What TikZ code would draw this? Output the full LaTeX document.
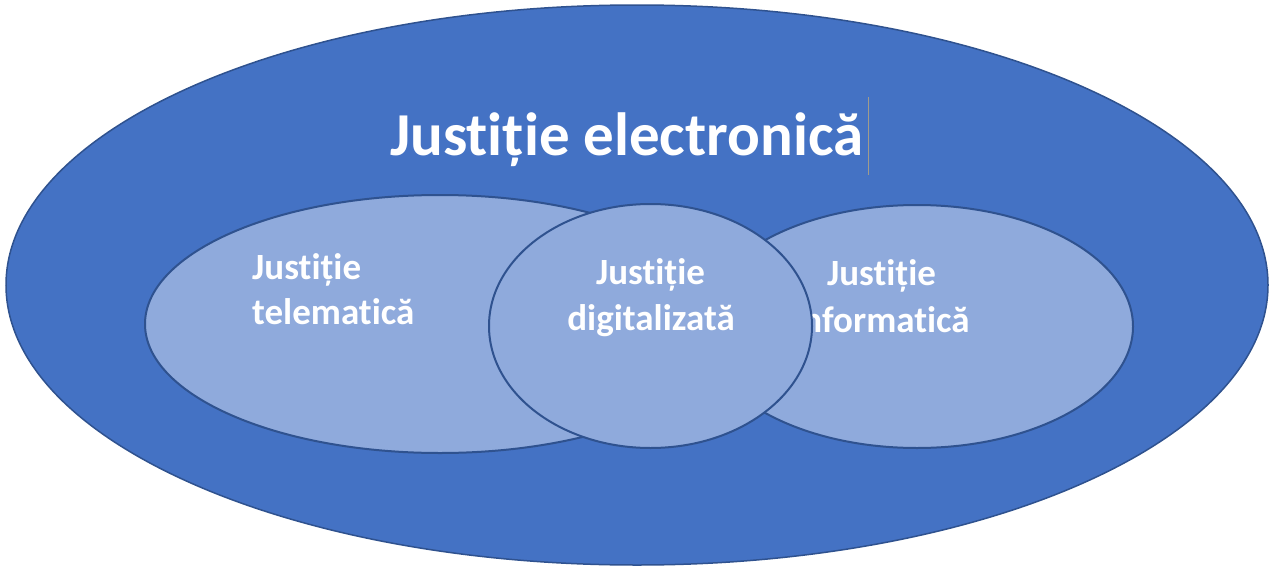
\documentclass[tikz,border=0pt]{standalone}
\usepackage{fontspec}
\setmainfont{Carlito}[Ligatures={NoCommon}]
\usetikzlibrary{shapes.geometric}
\definecolor{outerblue}{HTML}{4472C4}
\definecolor{innerblue}{HTML}{8FAADC}
\definecolor{edgeblue}{HTML}{2F528F}
\definecolor{caretgray}{HTML}{A09C8C}
\tikzset{
  outerset/.style={ellipse, draw=edgeblue, fill=outerblue, line width=1.5pt, inner sep=0pt},
  innerset/.style={ellipse, draw=edgeblue, fill=innerblue, line width=2pt, inner sep=0pt},
  bigtext/.style={text=white, font=\bfseries\fontsize{61}{70}\selectfont, inner sep=0pt},
  smalltext/.style={text=white, font=\bfseries\fontsize{37}{45}\selectfont, inner sep=0pt},
}
\begin{document}
\begin{tikzpicture}[x=1pt, y=-1pt]
\useasboundingbox (0,0) rectangle (1275,573);
\node[outerset, minimum width=1262pt, minimum height=560pt] (outer) at (637,285) {};
\node[bigtext, anchor=base west] (title) at (390,155) {Justiție electronică};
\draw[caretgray, line width=0.8pt] (868,97) -- (868,175);
\node[innerset, minimum width=590pt, minimum height=258pt] (left) at (440,324) {};
\node[smalltext, anchor=base west] (l1) at (252,279) {Justiție};
\node[smalltext, anchor=base west] (l2) at (252,324) {telematică};
\node[innerset, minimum width=432pt, minimum height=243pt] (right) at (917,326.5) {};
\node[smalltext, anchor=base] (r1) at (881.5,285) {Justiție};
\node[smalltext, anchor=base] (r2) at (881.5,332) {informatică};
\node[innerset, minimum width=323pt, minimum height=244pt] (mid) at (650.5,326) {};
\node[smalltext, anchor=base] (m1) at (650.5,284) {Justiție};
\node[smalltext, anchor=base] (m2) at (651,330) {digitalizată};
\end{tikzpicture}
\end{document}
